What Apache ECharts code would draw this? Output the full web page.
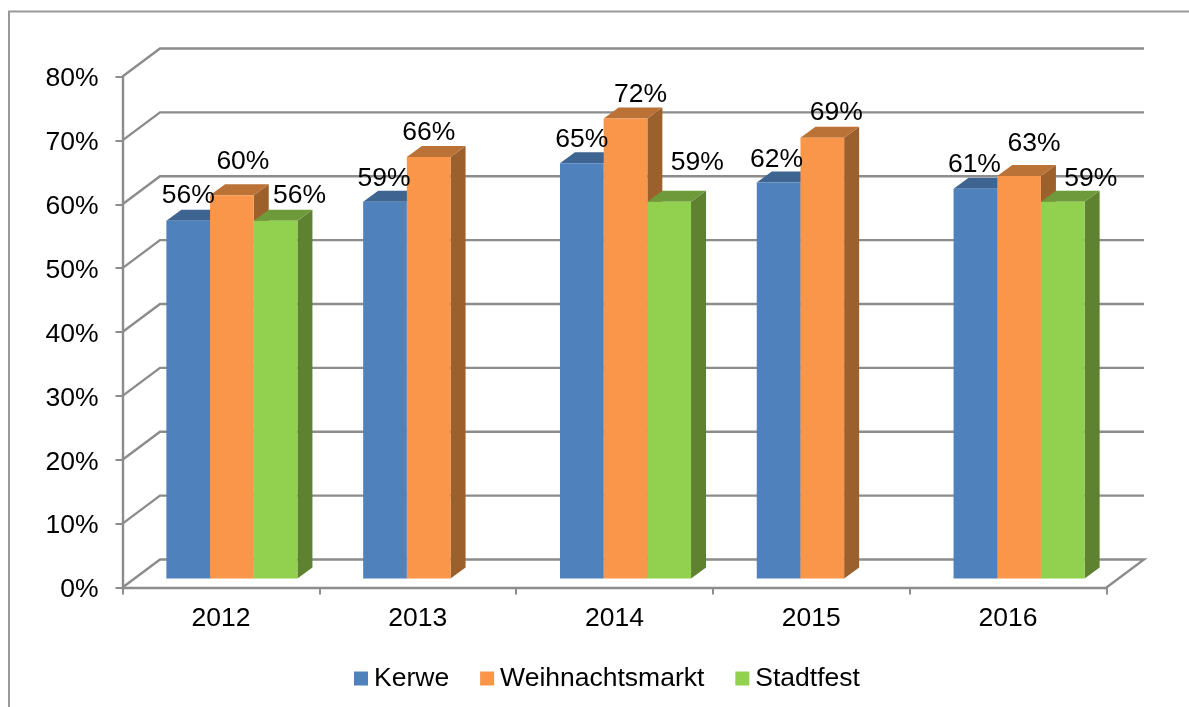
<!DOCTYPE html>
<html>
<head>
<meta charset="utf-8">
<style>
  html, body { margin: 0; padding: 0; background: #fff; }
  #chart { width: 1189px; height: 707px; }
</style>
</head>
<body>
<div id="chart"></div>
<script src="https://cdn.jsdelivr.net/npm/echarts@6/dist/echarts.min.js"></script>
<script>
const years = ["2012", "2013", "2014", "2015", "2016"];
const kerwe = [56, 59, 65, 62, 61];
const weihnachtsmarkt = [60, 66, 72, 69, 63];
const stadtfest = [56, null, 59, null, 59];
const yTicks = [0, 10, 20, 30, 40, 50, 60, 70, 80];

// where each data label sits relative to its bar top, labels were moved by hand in the original
const kerweLabelShift = [[0, -25], [-1, -23], [0, -24], [-2, -23], [-1, -24]];
const weihnachtsLabelShift = [[11, -34], [0, -24], [15, -24], [14, -25], [15, -32]];
const stadtfestLabelShift = [[24, -25], null, [28, -39], null, [28, -23]];

const FONT = '"Liberation Sans", Arial, sans-serif';
const FONT_SIZE = 26.5;
const GRID_COLOR = "#8c8c8c";
const WALL_DX = 37.5;
const WALL_DY = -28;
const BAR_DX = 11;
const BAR_DY = -9;
const SIDE_DX = 15;
const SIDE_DY = -11;
const BAR_SHARE = 0.222;

function wallItem(params, api) {
  const cs = params.coordSys;
  const y = api.coord([0, api.value(1)])[1];
  const left = cs.x;
  const right = cs.x + cs.width;
  const points = [[left, y], [left + WALL_DX, y + WALL_DY], [right + WALL_DX, y + WALL_DY]];
  if (api.value(1) === 0) points.push([right, y]);
  return { type: "polyline", shape: { points }, style: { stroke: GRID_COLOR, lineWidth: 2.4, fill: null } };
}

function barRenderer(slot, colors, shifts) {
  return function (params, api) {
    const v = api.value(1);
    if (isNaN(v)) return null;
    const idx = api.value(0);
    const base = api.coord([idx, 0]);
    const top = api.coord([idx, v]);
    const w = api.size([1, 0])[0] * BAR_SHARE;
    const x0 = base[0] + BAR_DX + (slot - 1.5) * w;
    const x1 = x0 + w;
    const yTop = top[1] + BAR_DY;
    const yBase = base[1] + BAR_DY;
    const shift = shifts[idx];
    return {
      type: "group",
      children: [
        {
          type: "polygon",
          shape: { points: [[x1, yTop], [x1 + SIDE_DX, yTop + SIDE_DY], [x1 + SIDE_DX, yBase + SIDE_DY], [x1, yBase]] },
          style: { fill: colors.side },
        },
        {
          type: "polygon",
          shape: { points: [[x0, yTop], [x0 + SIDE_DX, yTop + SIDE_DY], [x1 + SIDE_DX, yTop + SIDE_DY], [x1, yTop]] },
          style: { fill: colors.top },
        },
        {
          type: "rect",
          shape: { x: x0, y: yTop, width: w, height: yBase - yTop },
          style: { fill: colors.front },
        },
        {
          type: "text",
          z2: 100,
          style: {
            x: (x0 + x1) / 2 + shift[0],
            y: yTop + shift[1],
            text: v + "%",
            fontSize: FONT_SIZE,
            fontFamily: FONT,
            fill: "#000",
            align: "center",
            verticalAlign: "middle",
          },
        },
      ],
    };
  };
}

function barSeries(name, values, slot, colors, shifts) {
  return {
    name,
    type: "custom",
    z: 2,
    clip: false,
    itemStyle: { color: colors.front },
    renderItem: barRenderer(slot, colors, shifts),
    encode: { x: 0, y: 1 },
    data: values.map((v, i) => [i, v]),
  };
}

const chart = echarts.init(document.getElementById("chart"));
chart.setOption({
  animation: false,
  backgroundColor: "#fff",
  textStyle: { fontFamily: FONT },
  grid: { left: 122.5, top: 76.5, width: 984, height: 511 },
  legend: {
    left: 354,
    top: 665,
    padding: 0,
    icon: "rect",
    itemWidth: 14,
    itemHeight: 14,
    itemGap: 31,
    textStyle: { fontSize: FONT_SIZE, fontFamily: FONT, color: "#000", padding: [0, 0, 0, 1] },
    data: ["Kerwe", "Weihnachtsmarkt", "Stadtfest"],
  },
  xAxis: {
    type: "category",
    data: years,
    axisLine: { lineStyle: { color: GRID_COLOR, width: 2.4 } },
    axisTick: { show: true, length: 7, lineStyle: { color: GRID_COLOR, width: 2 } },
    axisLabel: { fontSize: FONT_SIZE, color: "#000", margin: 18 },
  },
  yAxis: {
    type: "value",
    min: 0,
    max: 80,
    interval: 10,
    axisLine: { show: true, lineStyle: { color: GRID_COLOR, width: 2.4 } },
    axisTick: { show: true, length: 7, lineStyle: { color: GRID_COLOR, width: 2 } },
    axisLabel: { fontSize: FONT_SIZE, color: "#000", margin: 24, verticalAlign: "top", lineHeight: 5, formatter: "{value}%" },
    splitLine: { show: false },
  },
  graphic: [
    {
      type: "polyline",
      silent: true,
      shape: { points: [[9, 707], [9, 11.5], [1189, 11.5]] },
      style: { stroke: "#999", lineWidth: 2, fill: null },
    },
  ],
  series: [
    {
      type: "custom",
      z: 1,
      clip: false,
      silent: true,
      renderItem: wallItem,
      encode: { x: 0, y: 1 },
      data: yTicks.map((t) => [0, t]),
    },
    barSeries("Kerwe", kerwe, 0, { front: "#4f81bd", top: "#3e6491", side: "#35587f" }, kerweLabelShift),
    barSeries("Weihnachtsmarkt", weihnachtsmarkt, 1, { front: "#f9964a", top: "#ba7236", side: "#9c602c" }, weihnachtsLabelShift),
    barSeries("Stadtfest", stadtfest, 2, { front: "#92d050", top: "#6f9a3b", side: "#5e8230" }, stadtfestLabelShift),
  ],
});
</script>
</body>
</html>
